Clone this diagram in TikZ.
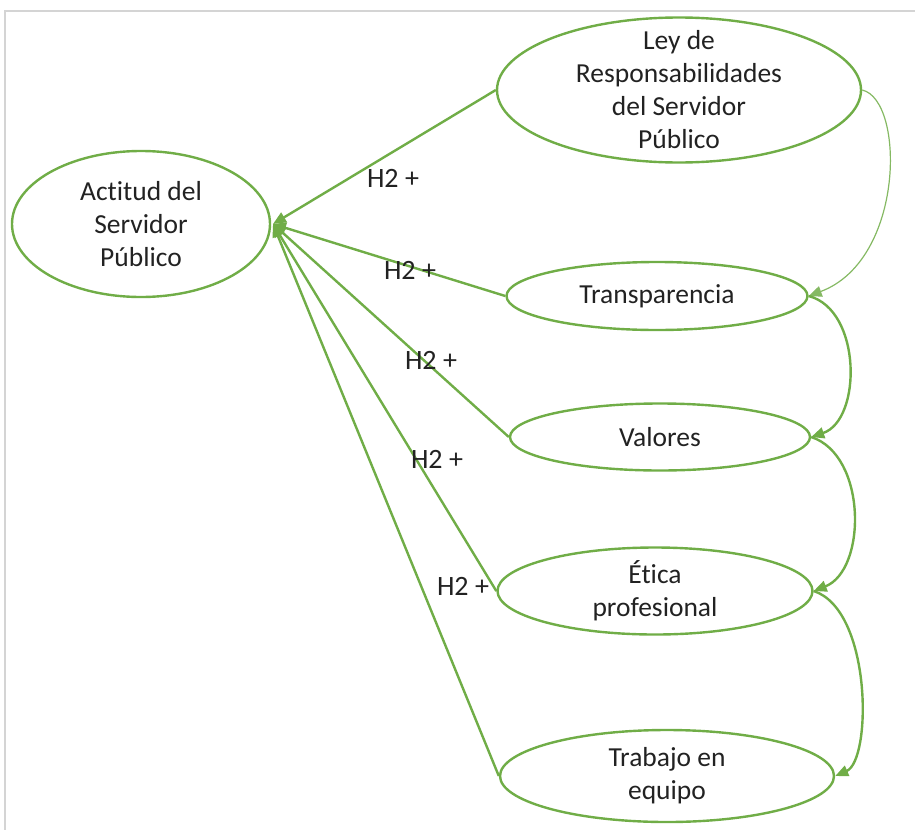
\documentclass[tikz,border=0pt]{standalone}
\usepackage{fontspec}
\setmainfont[Ligatures=NoCommon]{Carlito}
\usetikzlibrary{shapes.geometric,arrows.meta}
\definecolor{lgreen}{HTML}{70AD47}
\definecolor{tgray}{HTML}{222222}
\definecolor{framegray}{HTML}{D4D4D4}
\tikzset{
  ell/.style={ellipse, draw=lgreen, line width=2.4pt, inner sep=0pt},
  txt/.style={align=center, text=tgray, font=\fontsize{27.5}{33}\selectfont, inner sep=0pt},
  hlab/.style={text=tgray, font=\fontsize{28}{30}\selectfont, inner sep=0pt},
  arr/.style={draw=lgreen, line width=2.4pt, -{Triangle[length=13pt,width=11pt]}},
  thinarr/.style={draw=lgreen!85, line width=1.2pt, -{Triangle[length=13pt,width=11pt]}},
}
\begin{document}
\begin{tikzpicture}[x=1pt,y=-1pt]
\useasboundingbox (0,0) rectangle (915,830);
\coordinate (ftl) at (5,11);
\coordinate (ftr) at (915,11);
\coordinate (fbl) at (5,830);
\draw[framegray, line width=1.2pt] (ftr) -- (ftl) -- (fbl);

\node[ell, minimum width=258pt, minimum height=146pt] (act) at (141,224) {};
\node[txt] (actT) at (act) {Actitud del\\Servidor\\Público};

\node[ell, minimum width=364pt, minimum height=145pt] (ley) at (679,90) {};
\node[txt] (leyT) at (ley) {Ley de\\Responsabilidades\\del Servidor\\Público};

\node[ell, minimum width=301pt, minimum height=68pt] (tra) at (657,296) {};
\node[txt] (traT) at (tra) {Transparencia};

\node[ell, minimum width=300pt, minimum height=67pt] (val) at (660,437) {};
\node[txt] (valT) at (val) {Valores};

\node[ell, minimum width=315pt, minimum height=87pt] (eti) at (655,591) {};
\node[txt] (etiT) at (eti) {Ética\\profesional};

\node[ell, minimum width=334pt, minimum height=92pt] (trab) at (667,776) {};
\node[txt] (trabT) at (trab) {Trabajo en\\equipo};

\coordinate (hub) at (273,224);

\draw[arr] (ley.west) -- (hub);
\draw[arr] (tra.west) -- (hub);
\draw[arr] (val.west) -- (hub);
\draw[arr] (eti.west) -- (hub);
\draw[arr] (trab.west) -- (hub);

\node[hlab] (l1) at (393,178) {H2 +};
\node[hlab] (l2) at (410,270) {H2 +};
\node[hlab] (l3) at (431,360) {H2 +};
\node[hlab] (l4) at (437,459) {H2 +};
\node[hlab] (l5) at (463,586) {H2 +};

\draw[thinarr] (ley.east) .. controls (905,100) and (905,260) .. (tra.east);
\draw[arr] (tra.east) .. controls (862,310) and (862,420) .. (val.east);
\draw[arr] (val.east) .. controls (867,455) and (867,570) .. (eti.east);
\draw[arr] (eti.east) .. controls (872,610) and (872,760) .. (trab.east);
\end{tikzpicture}
\end{document}
